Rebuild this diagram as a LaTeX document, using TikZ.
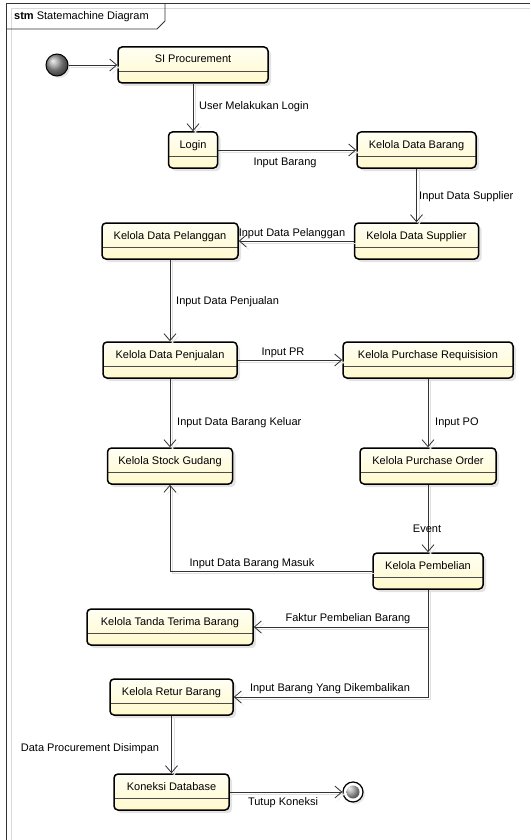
\documentclass[tikz,border=0pt]{standalone}
\usepackage{fontspec}
\setmainfont{Liberation Sans}
\usetikzlibrary{shapes,arrows.meta,shadows}

\definecolor{stlight}{RGB}{255,255,243}
\definecolor{stdark}{RGB}{255,249,204}

\begin{document}
\begin{tikzpicture}[x=1pt, y=-1pt, font=\fontsize{11}{13}\selectfont,
  >={Straight Barb[length=7pt,width=12pt]},
  stbox/.style={draw, line width=1.5pt, rounded corners=4pt, inner sep=0pt,
    text height=16pt, text depth=20pt, top color=stlight, bottom color=stdark,
    drop shadow={shadow xshift=3pt, shadow yshift=-3pt, opacity=0.22},
    path picture={\draw[line width=0.6pt, black!70]
      ([yshift=-6pt]path picture bounding box.west) -- ([yshift=-6pt]path picture bounding box.east);}},
  lbl/.style={inner sep=1pt, text height=8pt, text depth=2pt},
  trans/.style={->, line width=0.8pt, draw=black!80,
    preaction={draw=black!12, transform canvas={shift={(2.5pt,-2.5pt)}}}}]

  \useasboundingbox (0,0) rectangle (530,840);

  % frame
  \draw[black!15, line width=1pt] (11,840) -- (11,9) -- (530,9);
  \draw[black!80, line width=1pt] (6,840) -- (6,4) -- (530,4);
  \draw[black!80, line width=0.8pt] (6,29) -- (157,29) -- (165,21) -- (165,4);
  \node[anchor=west, inner sep=0pt] (tab) at (14,17) {\textbf{stm} Statemachine Diagram};

  \node[circle, draw, line width=1pt, minimum size=22pt, inner sep=0pt, ball color=gray!80,
    drop shadow={shadow xshift=2pt, shadow yshift=-2pt, opacity=0.2}] (start) at (57,65) {};
  \node[stbox, minimum width=150pt] (proc) at (193,65) {SI Procurement};
  \node[stbox, minimum width=49pt] (login) at (193,150) {Login};
  \node[stbox, minimum width=119pt] (barang) at (416.5,150) {Kelola Data Barang};
  \node[stbox, minimum width=124pt] (supplier) at (416.5,241) {Kelola Data Supplier};
  \node[stbox, minimum width=136pt] (pelanggan) at (170,241) {Kelola Data Pelanggan};
  \node[stbox, minimum width=134pt] (penjualan) at (170,360) {Kelola Data Penjualan};
  \node[stbox, minimum width=170pt] (pr) at (428,360) {Kelola Purchase Requisision};
  \node[stbox, minimum width=125pt] (gudang) at (170,466) {Kelola Stock Gudang};
  \node[stbox, minimum width=136pt] (po) at (428,466) {Kelola Purchase Order};
  \node[stbox, minimum width=110pt] (pembelian) at (428,571) {Kelola Pembelian};
  \node[stbox, minimum width=166pt] (tanda) at (170,627) {Kelola Tanda Terima Barang};
  \node[stbox, minimum width=123pt] (retur) at (171.5,697) {Kelola Retur Barang};
  \node[stbox, minimum width=115pt] (koneksi) at (171.5,792) {Koneksi Database};
  \node[circle, draw, line width=1.2pt, fill=white, minimum size=20pt, inner sep=0pt,
    drop shadow={shadow xshift=2pt, shadow yshift=-2pt, opacity=0.2},
    path picture={\shade[ball color=gray!80] (path picture bounding box.center) circle (6.5pt);}] (stop) at (353,792) {};

  \draw[trans] (start) -- (proc);
  \draw[trans] (proc) -- (login);
  \draw[trans] (login) -- (barang);
  \draw[trans] (barang) -- (supplier);
  \draw[trans] (supplier) -- (pelanggan);
  \draw[trans] (pelanggan) -- (penjualan);
  \draw[trans] (penjualan) -- (pr);
  \draw[trans] (penjualan) -- (gudang);
  \draw[trans] (pr) -- (po);
  \draw[trans] (po) -- (pembelian);
  \draw[trans] (pembelian) -| (gudang);
  \draw[trans] (pembelian) |- (tanda);
  \draw[trans] (pembelian) |- (retur);
  \draw[trans] (retur) -- (koneksi);
  \draw[trans] (koneksi) -- (stop);

  \node[lbl, anchor=west] (t1) at (198,107) {User Melakukan Login};
  \node[lbl] (t2) at (285,162) {Input Barang};
  \node[lbl, anchor=west] (t3) at (418,196) {Input Data Supplier};
  \node[lbl] (t4) at (292,233) {Input Data Pelanggan};
  \node[lbl, anchor=west] (t5) at (175,301) {Input Data Penjualan};
  \node[lbl] (t6) at (283,352) {Input PR};
  \node[lbl, anchor=west] (t7) at (176,422) {Input Data Barang Keluar};
  \node[lbl, anchor=west] (t8) at (434,422) {Input PO};
  \node[lbl] (t9) at (427,529) {Event};
  \node[lbl] (t10) at (252,563) {Input Data Barang Masuk};
  \node[lbl] (t11) at (348,618) {Faktur Pembelian Barang};
  \node[lbl] (t12) at (330,688) {Input Barang Yang Dikembalikan};
  \node[lbl] (t13) at (90,748) {Data Procurement Disimpan};
  \node[lbl] (t14) at (283,802) {Tutup Koneksi};

\end{tikzpicture}
\end{document}
